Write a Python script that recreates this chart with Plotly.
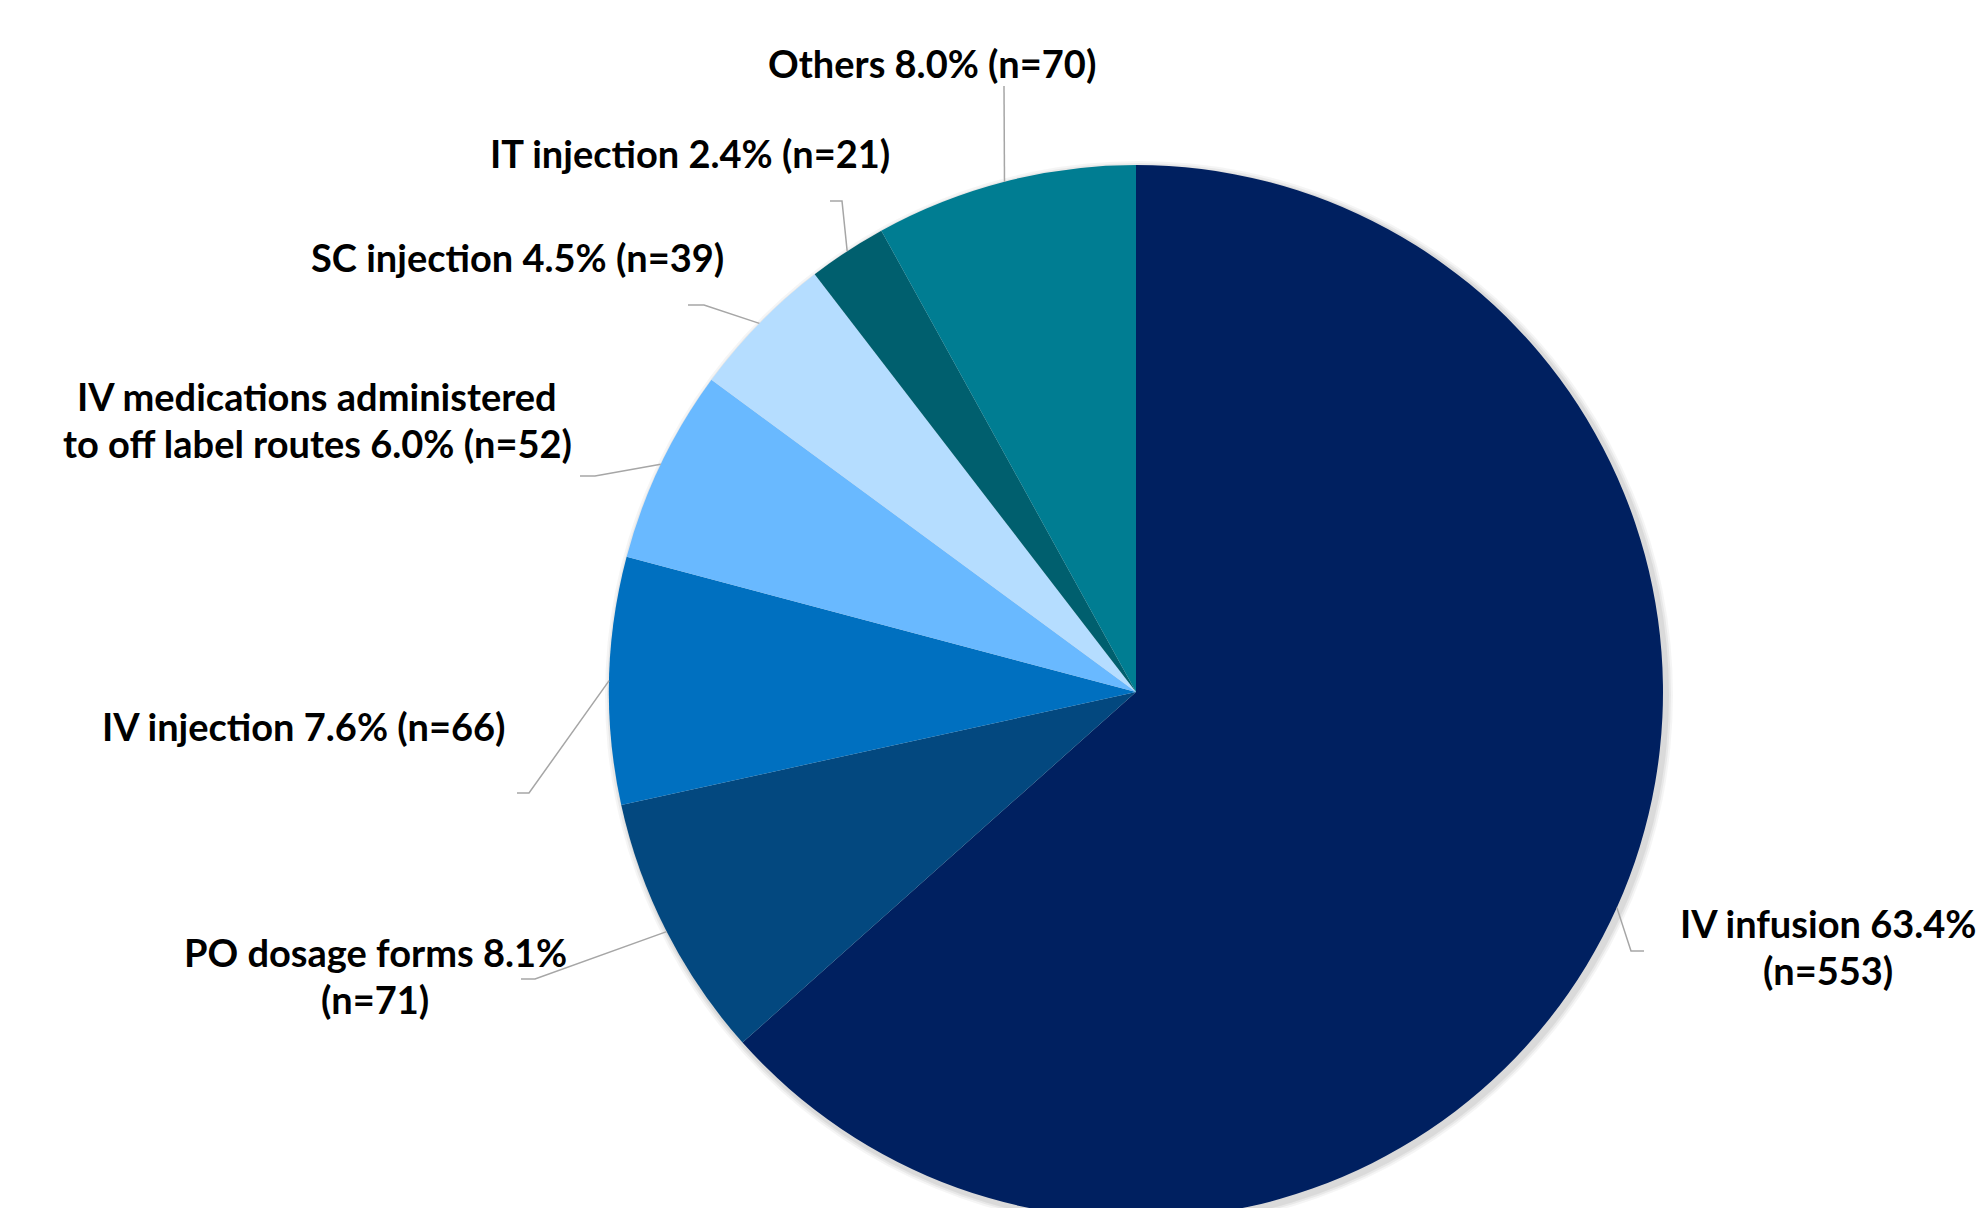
import math
import plotly.graph_objects as go

# ---- data ----
categories = ["IV infusion", "PO dosage forms", "IV injection",
              "IV medications administered to off label routes",
              "SC injection", "IT injection", "Others"]
counts = [553, 71, 66, 52, 39, 21, 70]
percents = ["63.4%", "8.1%", "7.6%", "6.0%", "4.5%", "2.4%", "8.0%"]
label_lines = [
    ["IV infusion 63.4%", "(n=553)"],
    ["PO dosage forms 8.1%", "(n=71)"],
    ["IV injection 7.6% (n=66)"],
    ["IV medications administered", "to off label routes 6.0% (n=52)"],
    ["SC injection 4.5% (n=39)"],
    ["IT injection 2.4% (n=21)"],
    ["Others 8.0% (n=70)"],
]

# ---- style / layout ----
colors = ["#002060", "#03487F", "#0070C0", "#69B9FF", "#B5DDFF", "#005F6E", "#007D92"]
W, H = 1986, 1230
CX, CY, R = 1136, 692, 527          # pie centre / radius in px (from top-left)
LINE_H = 47                          # px between label lines

# label centre positions (px) and leader-line start/elbow points (px)
label_pos = [(1828, 946), (375, 975), (304, 726), (317, 419), (517, 257), (690, 153), (932, 63)]
leader_start = [(1644, 951), (521, 979), (517, 793), (580, 476), (688, 305), (830, 201), (1004, 86)]
leader_elbow = [(1631, 951), (535, 979), (529, 793), (595, 476), (704, 305), (842, 201), (1004, 86)]

FONT = "Lato, 'Open Sans', sans-serif"
FONT_SIZE = 38


def px(x):
    return x / W


def py(y):
    return 1 - y / H


fig = go.Figure()

# soft shadow behind the pie
for off, op in [(7, 0.04), (5, 0.05), (3, 0.06)]:
    fig.add_trace(go.Pie(
        values=[sum(counts)], sort=False, textinfo="none", hoverinfo="skip", showlegend=False,
        marker=dict(colors=[f"rgba(0,0,0,{op})"], line=dict(width=0)),
        domain=dict(x=[px(CX - R - off + 3), px(CX + R + off + 3)],
                    y=[py(CY + R + off + 3), py(CY - R - off + 3)]),
    ))

fig.add_trace(go.Pie(
    labels=categories, values=counts, sort=False, direction="clockwise", rotation=0,
    marker=dict(colors=colors, line=dict(width=0)),
    textinfo="none", hoverinfo="label+value+percent", showlegend=False,
    domain=dict(x=[px(CX - R), px(CX + R)], y=[py(CY + R), py(CY - R)]),
))

total = sum(counts)
cum = 0
shapes = []
annotations = []
for i, v in enumerate(counts):
    mid = (cum + v / 2) / total * 2 * math.pi
    cum += v
    ex = CX + R * math.sin(mid)
    ey = CY - R * math.cos(mid)
    sx, sy = leader_start[i]
    bx, by = leader_elbow[i]
    shapes.append(dict(
        type="path", xref="paper", yref="paper",
        path=f"M {px(sx)},{py(sy)} L {px(bx)},{py(by)} L {px(ex)},{py(ey)}",
        line=dict(color="#A6A6A6", width=1.5),
    ))
    lx, ly = label_pos[i]
    lines = label_lines[i]
    n = len(lines)
    for j, t in enumerate(lines):
        yy = ly + (j - (n - 1) / 2) * LINE_H
        annotations.append(dict(
            x=px(lx), y=py(yy), xref="paper", yref="paper", xanchor="center", yanchor="middle",
            text=f"<b>{t}</b>", showarrow=False, align="center",
            font=dict(family=FONT, size=FONT_SIZE, color="#000000"),
        ))

fig.update_layout(
    width=W, height=H, margin=dict(l=0, r=0, t=0, b=0),
    paper_bgcolor="white", plot_bgcolor="white",
    shapes=shapes, annotations=annotations,
)

fig.write_html(
    "out.html",
    post_script="document.documentElement.style.overflow='hidden';document.body.style.overflow='hidden';document.body.style.margin='0';",
)
